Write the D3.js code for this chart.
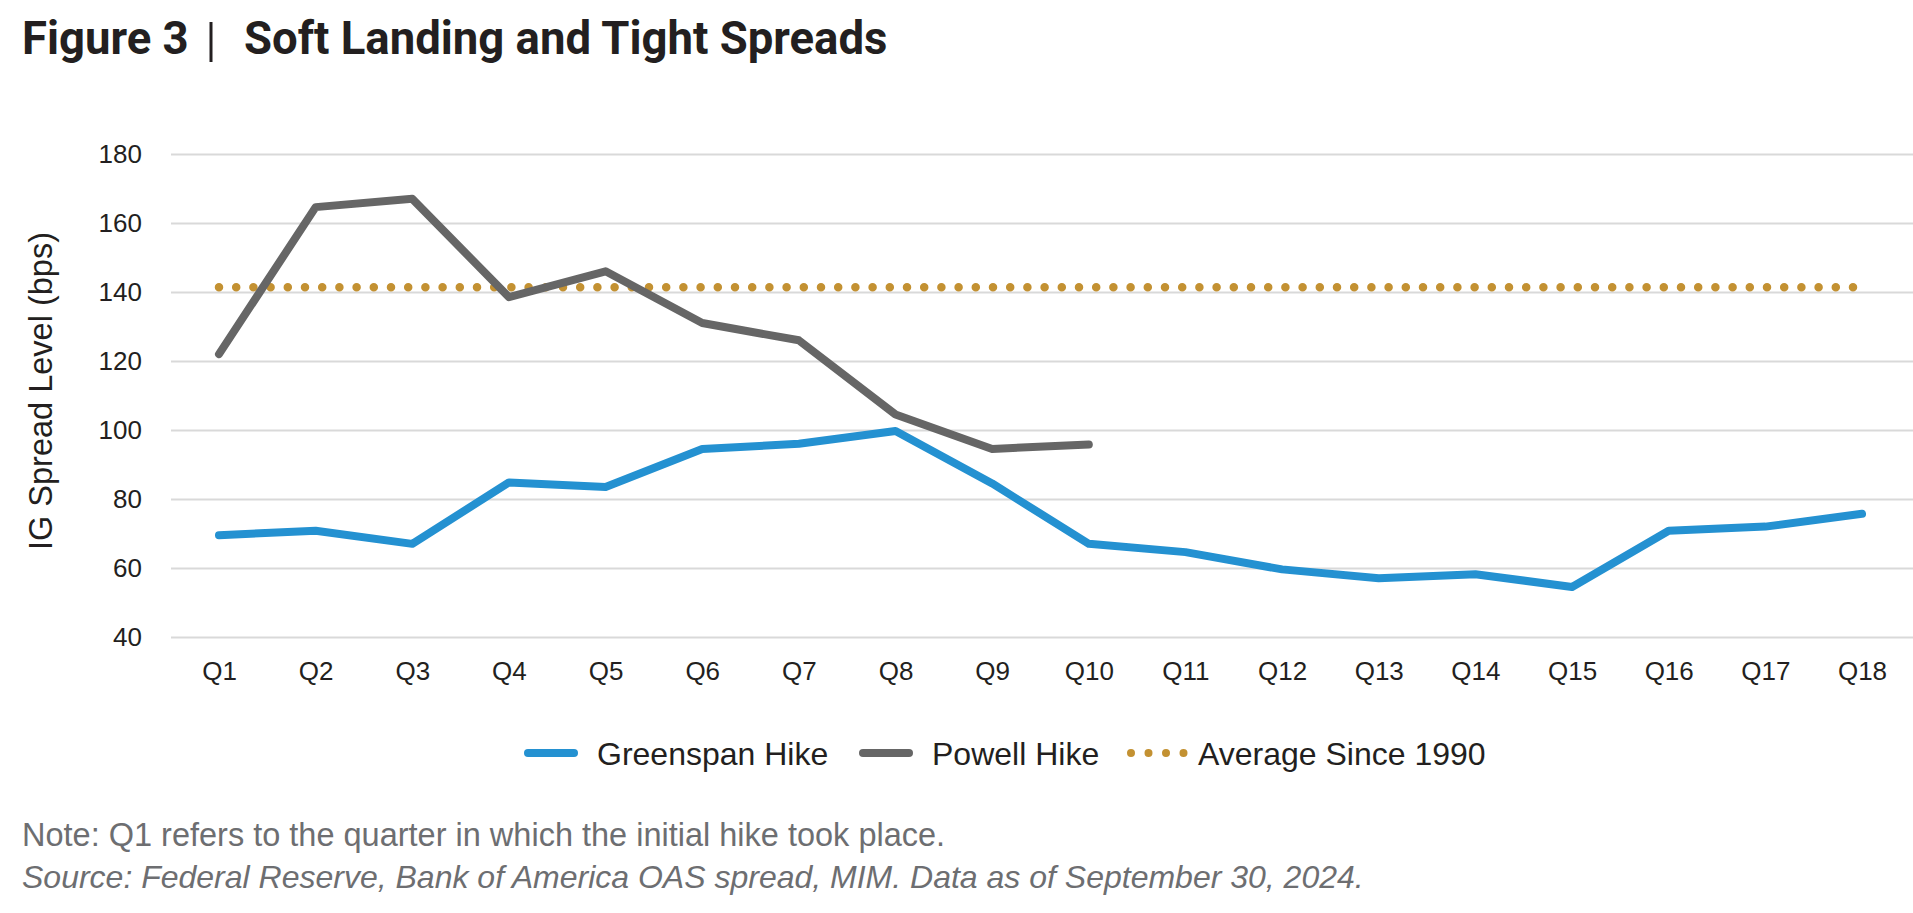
<!DOCTYPE html>
<html>
<head>
<meta charset="utf-8">
<script src="https://cdn.jsdelivr.net/npm/d3@7"></script>
<style>
  body { margin: 0; background: #fff; }
  svg { display: block; }
  .tick text { font-family: "Liberation Sans", Arial, sans-serif; font-size: 26px; fill: #231f20; }
  .legend text { font-family: "Liberation Sans", Arial, sans-serif; font-size: 32px; fill: #231f20; }
  .note { font-family: "Liberation Sans", Arial, sans-serif; font-size: 32.5px; fill: #6d6e71; }
</style>
</head>
<body>
<div id="chart"></div>
<script>
// values
var quarters = ["Q1","Q2","Q3","Q4","Q5","Q6","Q7","Q8","Q9","Q10","Q11","Q12","Q13","Q14","Q15","Q16","Q17","Q18"];
var greenspan = [69.5, 70.8, 67, 84.8, 83.5, 94.5, 96, 99.7, 84.5, 67, 64.6, 59.6, 57, 58.2, 54.5, 70.8, 72, 75.7];
var powell = [122, 164.6, 167, 138.5, 146, 131, 126, 104.5, 94.5, 95.8];
var averageSince1990 = 141.4;
var yTicks = [40, 60, 80, 100, 120, 140, 160, 180];

var W = 1913, H = 913;
var plotLeft = 171, plotRight = 1913;

var svg = d3.select("#chart").append("svg")
  .attr("width", W)
  .attr("height", H);

// title
var title = svg.append("text")
  .attr("x", 22)
  .attr("y", 54)
  .style("font-family", "Roboto, 'Liberation Sans', sans-serif")
  .style("font-weight", 700)
  .style("font-size", "45.5px")
  .style("fill", "#231f20");
title.append("tspan").text("Figure 3");
title.append("tspan").attr("x", 244).text("Soft Landing and Tight Spreads");
svg.append("line")
  .attr("x1", 211).attr("x2", 211)
  .attr("y1", 22).attr("y2", 62)
  .attr("stroke", "#231f20")
  .attr("stroke-width", 3);

var x = d3.scalePoint().domain(quarters).range([219, 1862]);
var y = d3.scaleLinear().domain([40, 180]).range([637, 154]);

// gridlines + y labels
var yAxis = svg.append("g")
  .attr("transform", "translate(" + plotLeft + ",0)")
  .call(d3.axisLeft(y).tickValues(yTicks).tickSize(-(plotRight - plotLeft)).tickPadding(29));
yAxis.select(".domain").remove();
yAxis.selectAll(".tick line").attr("stroke", "#d9d9d9").attr("stroke-width", 2);

// x labels
var xAxis = svg.append("g")
  .attr("transform", "translate(0,637)")
  .call(d3.axisBottom(x).tickSize(0).tickPadding(24.5));
xAxis.select(".domain").remove();

// y title
svg.append("text")
  .attr("transform", "translate(52,391) rotate(-90)")
  .attr("text-anchor", "middle")
  .style("font-family", "'Liberation Sans', Arial, sans-serif")
  .style("font-size", "32.5px")
  .style("fill", "#231f20")
  .text("IG Spread Level (bps)");

var line = d3.line()
  .x(function (d, i) { return x(quarters[i]); })
  .y(function (d) { return y(d); });

// average since 1990
svg.append("line")
  .attr("x1", x(quarters[0]))
  .attr("x2", x(quarters[quarters.length - 1]))
  .attr("y1", y(averageSince1990))
  .attr("y2", y(averageSince1990))
  .attr("stroke", "#c39132")
  .attr("stroke-width", 8.5)
  .attr("stroke-linecap", "round")
  .attr("stroke-dasharray", "0 17.2");

svg.append("path")
  .datum(powell)
  .attr("d", line)
  .attr("fill", "none")
  .attr("stroke", "#666666")
  .attr("stroke-width", 8)
  .attr("stroke-linecap", "round")
  .attr("stroke-linejoin", "round");

svg.append("path")
  .datum(greenspan)
  .attr("d", line)
  .attr("fill", "none")
  .attr("stroke", "#2491d1")
  .attr("stroke-width", 8)
  .attr("stroke-linecap", "round")
  .attr("stroke-linejoin", "round");

// legend
var legend = svg.append("g").attr("class", "legend");
var ly = 753;
legend.append("line")
  .attr("x1", 528).attr("x2", 574).attr("y1", ly).attr("y2", ly)
  .attr("stroke", "#2491d1").attr("stroke-width", 8).attr("stroke-linecap", "round");
legend.append("text").attr("x", 597).attr("y", ly + 11.5).text("Greenspan Hike");
legend.append("line")
  .attr("x1", 863).attr("x2", 909).attr("y1", ly).attr("y2", ly)
  .attr("stroke", "#666666").attr("stroke-width", 8).attr("stroke-linecap", "round");
legend.append("text").attr("x", 932).attr("y", ly + 11.5).text("Powell Hike");
legend.append("line")
  .attr("x1", 1131).attr("x2", 1184).attr("y1", ly).attr("y2", ly)
  .attr("stroke", "#c39132").attr("stroke-width", 8).attr("stroke-linecap", "round")
  .attr("stroke-dasharray", "0 17.5");
legend.append("text").attr("x", 1198).attr("y", ly + 11.5).text("Average Since 1990");

// notes
svg.append("text").attr("class", "note")
  .attr("x", 22).attr("y", 846)
  .text("Note: Q1 refers to the quarter in which the initial hike took place.");
svg.append("text").attr("class", "note")
  .attr("x", 22).attr("y", 888)
  .style("font-style", "italic")
  .style("font-size", "32px")
  .text("Source: Federal Reserve, Bank of America OAS spread, MIM. Data as of September 30, 2024.");
</script>
</body>
</html>
